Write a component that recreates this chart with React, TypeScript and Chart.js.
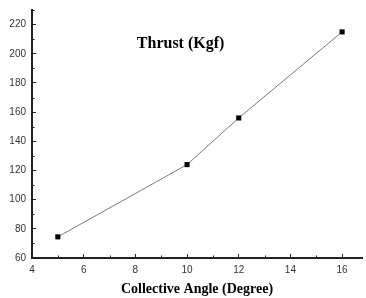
import React, { useEffect, useRef } from "react";
import { Chart, registerables } from "chart.js";

Chart.register(...registerables);

const angles = [5, 10, 12, 16];
const thrust = [74.5, 124, 156, 215];
const xTickValues = [4, 5, 6, 7, 8, 9, 10, 11, 12, 13, 14, 15, 16];
const yTickValues = [60, 70, 80, 90, 100, 110, 120, 130, 140, 150, 160, 170, 180, 190, 200, 210, 220, 230];
const chartTitle = "Thrust (Kgf)";
const xTitle = "Collective Angle (Degree)";

const minorTicks = {
  id: "minorTicks",
  afterDraw(chart: any) {
    const ctx = chart.ctx;
    const xs = chart.scales.x;
    const ys = chart.scales.y;
    ctx.save();
    ctx.strokeStyle = "#222";
    ctx.lineWidth = 1;
    xs.ticks.forEach((t: any) => {
      if (t.value % 2 !== 0) {
        const px = Math.round(xs.getPixelForValue(t.value)) + 0.5;
        ctx.beginPath();
        ctx.moveTo(px, chart.chartArea.bottom);
        ctx.lineTo(px, chart.chartArea.bottom - 2.5);
        ctx.stroke();
      }
    });
    ys.ticks.forEach((t: any) => {
      if (t.value % 20 !== 0) {
        const py = Math.round(ys.getPixelForValue(t.value)) + 0.5;
        ctx.beginPath();
        ctx.moveTo(chart.chartArea.left, py);
        ctx.lineTo(chart.chartArea.left + 2.5, py);
        ctx.stroke();
      }
    });
    ctx.restore();
  },
};

const innerTitle = {
  id: "innerTitle",
  afterDraw(chart: any) {
    const ctx = chart.ctx;
    const xs = chart.scales.x;
    const ys = chart.scales.y;
    ctx.save();
    ctx.font = 'bold 16px "Liberation Serif", "Times New Roman", serif';
    ctx.fillStyle = "#000";
    ctx.textAlign = "center";
    ctx.textBaseline = "middle";
    ctx.fillText(chartTitle, xs.getPixelForValue(9.75), ys.getPixelForValue(207));
    ctx.restore();
  },
};

export default function App() {
  const ref = useRef<HTMLCanvasElement>(null);
  useEffect(() => {
    const canvas = ref.current!;
    const chart = new Chart(canvas, {
      type: "line",
      data: {
        datasets: [
          {
            data: angles.map((a, i) => ({ x: a, y: thrust[i] })),
            borderColor: "#7a7a7a",
            borderWidth: 1,
            pointStyle: "rect",
            pointRadius: 3.6,
            pointBackgroundColor: "#000",
            pointBorderColor: "#000",
            pointBorderWidth: 0,
            tension: 0,
          },
        ],
      },
      plugins: [minorTicks, innerTitle],
      options: {
        animation: false,
        responsive: false,
        layout: { padding: { top: 10, right: 0, left: 0, bottom: 0 } },
        plugins: {
          legend: { display: false },
          tooltip: { enabled: false },
          title: { display: false },
        },
        scales: {
          x: {
            type: "linear",
            min: 4,
            max: 16.77,
            afterBuildTicks: (s: any) => {
              s.ticks = xTickValues.map((v) => ({ value: v }));
            },
            afterFit: (s: any) => {
              s.height = 40;
              s.paddingLeft = 0;
              s.paddingRight = 0;
            },
            ticks: {
              autoSkip: false,
              maxRotation: 0,
              padding: 10,
              color: "#333",
              font: { family: '"Liberation Sans", Arial, sans-serif', size: 10 },
              callback: (v: any) => (Number(v) % 2 === 0 ? String(v) : ""),
            },
            grid: {
              drawOnChartArea: false,
              drawTicks: true,
              tickLength: -4,
              tickColor: (c: any) => (c.tick && c.tick.value % 2 === 0 ? "#222" : "rgba(0,0,0,0)"),
            },
            border: { display: true, color: "#222", width: 2 },
            title: {
              display: true,
              text: xTitle,
              color: "#000",
              font: { family: '"Liberation Serif", "Times New Roman", serif', size: 14, weight: "bold" },
              padding: { top: 0, bottom: 0 },
            },
          },
          y: {
            type: "linear",
            min: 60,
            max: 230,
            afterBuildTicks: (s: any) => {
              s.ticks = yTickValues.map((v) => ({ value: v }));
            },
            afterFit: (s: any) => {
              s.width = 32;
              s.paddingTop = 0;
              s.paddingBottom = 0;
            },
            ticks: {
              autoSkip: false,
              padding: 10,
              color: "#333",
              font: { family: '"Liberation Sans", Arial, sans-serif', size: 10 },
              callback: (v: any) => (Number(v) % 20 === 0 && Number(v) <= 220 ? String(v) : ""),
            },
            grid: {
              drawOnChartArea: false,
              drawTicks: true,
              tickLength: -4,
              tickColor: (c: any) => (c.tick && c.tick.value % 20 === 0 ? "#222" : "rgba(0,0,0,0)"),
            },
            border: { display: true, color: "#222", width: 2 },
          },
        },
      },
    });
    return () => chart.destroy();
  }, []);
  return (
    <div style={{ position: "absolute", left: 0, top: 0, width: 366, height: 298, background: "#fff" }}>
      <canvas ref={ref} width={366} height={298} style={{ display: "block" }} />
    </div>
  );
}
